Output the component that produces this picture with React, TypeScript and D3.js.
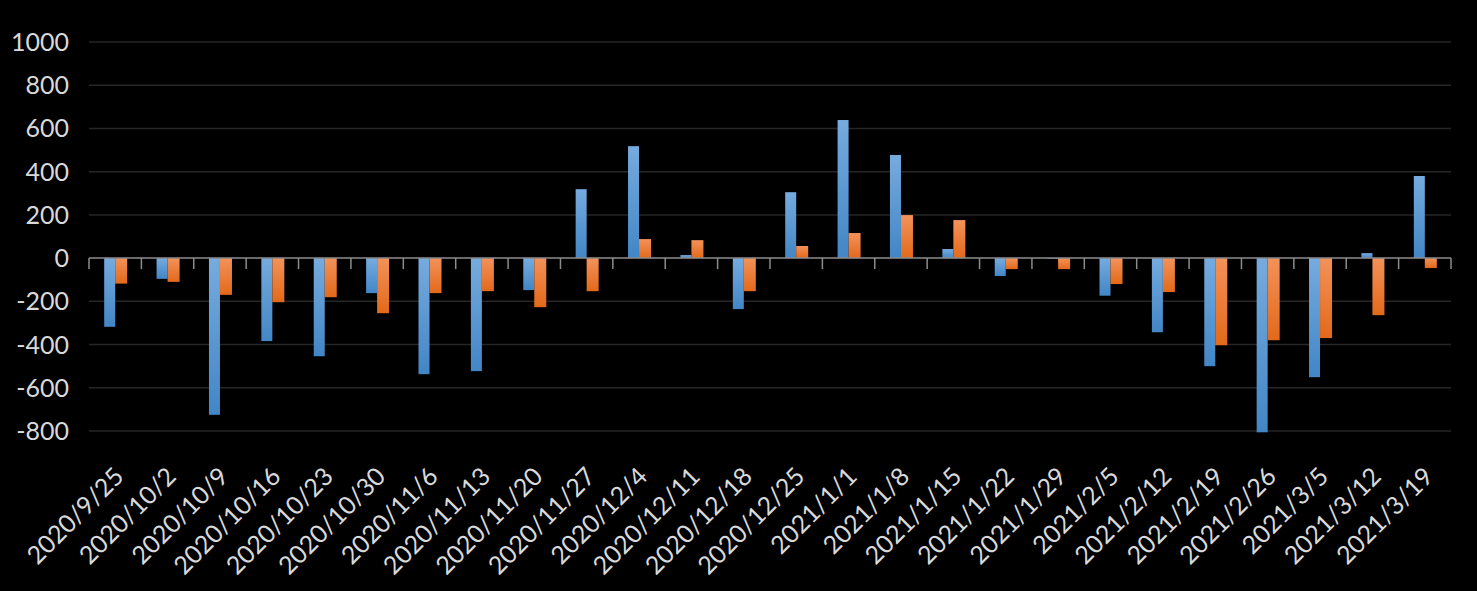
import React, { useEffect, useRef } from 'react';
import * as d3 from 'd3';

// weekly dates on the category axis
const categories = [
    '2020/9/25', '2020/10/2', '2020/10/9', '2020/10/16', '2020/10/23', '2020/10/30',
    '2020/11/6', '2020/11/13', '2020/11/20', '2020/11/27', '2020/12/4', '2020/12/11',
    '2020/12/18', '2020/12/25', '2021/1/1', '2021/1/8', '2021/1/15', '2021/1/22',
    '2021/1/29', '2021/2/5', '2021/2/12', '2021/2/19', '2021/2/26', '2021/3/5',
    '2021/3/12', '2021/3/19'
];

const blueValues = [
    -318, -96, -725, -384, -454, -162, -537, -523, -148, 319, 518, 14, -236,
    305, 639, 477, 42, -83, -3, -174, -343, -500, -806, -551, 23, 380
];

const orangeValues = [
    -118, -110, -170, -204, -181, -255, -162, -153, -227, -153, 88, 83, -153,
    56, 116, 199, 176, -51, -51, -120, -157, -403, -380, -370, -264, -46
];

const yTicks = [-800, -600, -400, -200, 0, 200, 400, 600, 800, 1000];

const WIDTH = 1477;
const HEIGHT = 591;

export default function App() {
    const svgRef = useRef<SVGSVGElement>(null);

    useEffect(() => {
        document.body.style.margin = '0';
        document.body.style.background = '#000';
        if (!svgRef.current) return;

        const svg = d3.select(svgRef.current);
        svg.selectAll('*').remove();

        const left = 89, right = 1451;
        const font = 'Lato, "Open Sans", sans-serif';
        const textColor = '#d9d9d9';

        const x = d3.scaleBand().domain(categories).range([left, right]).paddingInner(0).paddingOuter(0);
        const y = d3.scaleLinear().domain([-800, 1000]).range([431, 42]);
        const barW = 11;

        const defs = svg.append('defs');
        const grad = (id: string, top: string, bottom: string) => {
            const g = defs.append('linearGradient').attr('id', id)
                .attr('x1', 0).attr('y1', 0).attr('x2', 0).attr('y2', 1);
            g.append('stop').attr('offset', '0%').attr('stop-color', top);
            g.append('stop').attr('offset', '100%').attr('stop-color', bottom);
        };
        grad('blueGrad', '#76abde', '#4286c6');
        grad('orangeGrad', '#f3925a', '#e3691a');

        svg.append('rect').attr('width', WIDTH).attr('height', HEIGHT).attr('fill', '#000');

        // gridlines
        svg.append('g')
            .selectAll('line')
            .data(yTicks.filter(t => t !== 0))
            .join('line')
            .attr('x1', left).attr('x2', right)
            .attr('y1', d => y(d)).attr('y2', d => y(d))
            .attr('stroke', '#262626').attr('stroke-width', 1.5);

        // y labels
        svg.append('g')
            .selectAll('text')
            .data(yTicks)
            .join('text')
            .attr('x', 69).attr('y', d => y(d)).attr('dy', '0.36em')
            .attr('text-anchor', 'end')
            .attr('fill', textColor).attr('font-family', font).attr('font-size', 25)
            .text(d => d);

        // bars
        const bars = svg.append('g');
        bars.selectAll('rect.blue')
            .data(blueValues)
            .join('rect')
            .attr('class', 'blue')
            .attr('x', (_, i) => (x(categories[i]) as number) + x.bandwidth() / 2 - barW)
            .attr('width', barW)
            .attr('y', d => Math.min(y(d), y(0)))
            .attr('height', d => Math.abs(y(d) - y(0)))
            .attr('fill', 'url(#blueGrad)');
        bars.selectAll('rect.orange')
            .data(orangeValues)
            .join('rect')
            .attr('class', 'orange')
            .attr('x', (_, i) => (x(categories[i]) as number) + x.bandwidth() / 2)
            .attr('width', barW + 1)
            .attr('y', d => Math.min(y(d), y(0)))
            .attr('height', d => Math.abs(y(d) - y(0)))
            .attr('fill', 'url(#orangeGrad)');

        // zero axis line with tick marks at category boundaries
        const axis = svg.append('g');
        axis.append('line')
            .attr('x1', left).attr('x2', right)
            .attr('y1', y(0)).attr('y2', y(0))
            .attr('stroke', '#8c8c8c').attr('stroke-width', 1.5);
        axis.selectAll('line.tick')
            .data(d3.range(categories.length + 1))
            .join('line')
            .attr('class', 'tick')
            .attr('x1', i => left + i * x.step()).attr('x2', i => left + i * x.step())
            .attr('y1', y(0)).attr('y2', y(0) + 11)
            .attr('stroke', '#8c8c8c').attr('stroke-width', 1.5);

        // rotated category labels
        svg.append('g')
            .selectAll('text')
            .data(categories)
            .join('text')
            .attr('transform', d => `translate(${(x(d) as number) + x.bandwidth() / 2 + 10},478) rotate(-45)`)
            .attr('text-anchor', 'end')
            .attr('fill', textColor).attr('font-family', font).attr('font-size', 25)
            .text(d => d);
    }, []);

    return <svg ref={svgRef} width={WIDTH} height={HEIGHT} style={{ display: 'block' }} />;
}
